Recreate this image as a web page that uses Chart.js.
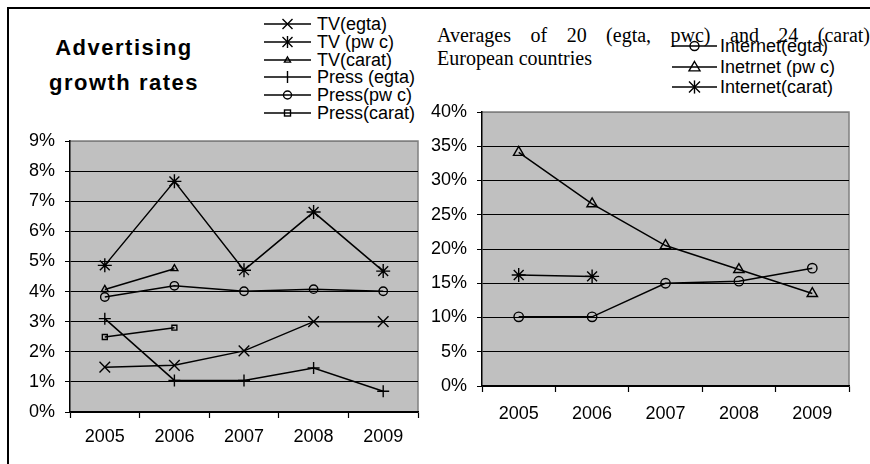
<!DOCTYPE html>
<html>
<head>
<meta charset="utf-8">
<script src="https://cdn.jsdelivr.net/npm/chart.js@4/dist/chart.umd.min.js"></script>
<style>
    body { margin: 0; width: 870px; height: 464px; position: relative; overflow: hidden; background: #fff;
           font-family: 'Liberation Sans', Arial, sans-serif; color: #000; }
    #frame { position: absolute; left: 7px; top: 7px; width: 880px; height: 480px;
             border-left: 2px solid #000; border-top: 2px solid #000; }
    #title { position: absolute; left: 39px; top: 30px; width: 170px; text-align: center;
             font-weight: bold; font-size: 22px; letter-spacing: 1.5px; line-height: 35px; }
    .note { position: absolute; left: 437px; width: 433px; white-space: nowrap;
            font-family: 'Liberation Serif', 'Times New Roman', serif; font-size: 20px; line-height: 22px; }
    #note1 { top: 24px; white-space: normal; text-align: justify; text-align-last: justify; }
    #note2 { top: 47px; }
    .legend { position: absolute; }
    .legend .row { position: absolute; left: 0; height: 18px; white-space: nowrap; font-size: 18px; line-height: 18px; }
    .legend svg { position: absolute; left: 0; top: 0; }
    .legend span { position: absolute; top: 0; }
    canvas { position: absolute; }
</style>
</head>
<body>
<div id="frame"></div>
<div id="title">Advertising<br>growth rates</div>
<div class="note" id="note1">Averages of 20 (egta, pwc) and 24 (carat)</div>
<div class="note" id="note2">European countries</div>
<div class="legend" id="legend-left"></div>
<div class="legend" id="legend-right"></div>
<canvas id="left-chart" width="430" height="344" style="left:0;top:120px"></canvas>
<canvas id="right-chart" width="450" height="374" style="left:420px;top:90px"></canvas>
<script>
    // Categories
    const years = ['2005', '2006', '2007', '2008', '2009'];

    // Left panel: TV and press growth, %
    const tvEgta = [1.49, 1.55, 2.03, 3.0, 3.0];
    const tvPwc = [4.87, 7.66, 4.71, 6.64, 4.68];
    const tvCarat = [4.07, 4.76, null, null, null];
    const pressEgta = [3.10, 1.05, 1.05, 1.46, 0.69];
    const pressPwc = [3.82, 4.19, 4.01, 4.08, 4.01];
    const pressCarat = [2.49, 2.80, null, null, null];

    // Right panel: internet growth, %
    const internetEgta = [10.1, 10.1, 15.0, 15.3, 17.2];
    const internetPwc = [34.1, 26.6, 20.5, 17.0, 13.5];
    const internetCarat = [16.2, 16.0, null, null, null];

    const leftNames = ['TV(egta)', 'TV (pw c)', 'TV(carat)', 'Press (egta)', 'Press(pw c)', 'Press(carat)'];
    const rightNames = ['Internet(egta)', 'Inetrnet (pw c)', 'Internet(carat)'];

    const leftTicks = { min: 0, max: 9, step: 1 };
    const rightTicks = { min: 0, max: 40, step: 5 };

    const FONT = "'Liberation Sans', Arial, sans-serif";

    /**
     * Gray plot background with a gray frame on top/right
     */
    const plotFrame = {
        id: 'plotFrame',
        beforeDraw(chart) {
            const a = chart.chartArea;
            const ctx = chart.ctx;
            ctx.save();
            ctx.fillStyle = '#C0C0C0';
            ctx.fillRect(a.left, a.top, a.right - a.left, a.bottom - a.top);
            ctx.strokeStyle = '#808080';
            ctx.lineWidth = 1.5;
            ctx.beginPath();
            ctx.moveTo(a.left, a.top);
            ctx.lineTo(a.right, a.top);
            ctx.lineTo(a.right, a.bottom);
            ctx.stroke();
            ctx.restore();
        }
    };

    function series(data, style, radius) {
        return {
            data: data,
            borderColor: '#000',
            borderWidth: 1.5,
            backgroundColor: 'transparent',
            pointStyle: style,
            pointRadius: radius,
            pointBorderColor: '#000',
            pointBorderWidth: 1.4,
            pointBackgroundColor: 'transparent',
            tension: 0,
            spanGaps: false
        };
    }

    function makeChart(id, datasets, ticks, yWidth, xHeight, xPad, padding) {
        return new Chart(document.getElementById(id), {
            type: 'line',
            data: { labels: years, datasets: datasets },
            plugins: [plotFrame],
            options: {
                responsive: false,
                animation: false,
                layout: { padding: padding },
                plugins: { legend: { display: false }, tooltip: { enabled: false } },
                scales: {
                    x: {
                        offset: true,
                        grid: { offset: true, drawOnChartArea: false, tickLength: 6, tickColor: '#000', tickWidth: 1.2 },
                        border: { color: '#000', width: 1.5 },
                        ticks: { color: '#000', padding: xPad, font: { family: FONT, size: 18 }, maxRotation: 0 },
                        afterFit: function(scale) { scale.height = xHeight; }
                    },
                    y: {
                        min: ticks.min,
                        max: ticks.max,
                        grid: {
                            color: c => (c.tick && c.tick.value === ticks.max) ? '#808080' : '#000',
                            lineWidth: 1,
                            tickLength: 5,
                            tickColor: '#000'
                        },
                        border: { color: '#000', width: 1.5 },
                        ticks: {
                            stepSize: ticks.step,
                            color: '#000',
                            padding: 10,
                            font: { family: FONT, size: 18 },
                            callback: v => v + '%'
                        },
                        afterFit: function(scale) { scale.width = yWidth; }
                    }
                }
            }
        });
    }

    makeChart('left-chart', [
        series(tvEgta, 'crossRot', 7.5),
        series(tvPwc, 'star', 7),
        series(tvCarat, 'triangle', 4),
        series(pressEgta, 'cross', 6),
        series(pressPwc, 'circle', 4.2),
        series(pressCarat, 'rect', 3.5)
    ], leftTicks, 70, 52, 8, { top: 21, right: 12, left: 0, bottom: 0 });

    makeChart('right-chart', [
        series(internetEgta, 'circle', 4.7),
        series(internetPwc, 'triangle', 6),
        series(internetCarat, 'star', 7)
    ], rightTicks, 62, 78, 11, { top: 22, right: 21, left: 0, bottom: 0 });

    /**
     * Legend row marker as small svg: line with symbol in the middle
     */
    function markerSvg(style, r, w) {
        const cx = w / 2, cy = 9;
        let s = '<line x1="0" y1="9" x2="' + w + '" y2="9" stroke="#000" stroke-width="1.5"/>';
        const g = 'fill="none" stroke="#000" stroke-width="1.4"';
        if (style === 'crossRot' || style === 'star') {
            s += '<path d="M' + (cx - r) + ' ' + (cy - r) + 'L' + (cx + r) + ' ' + (cy + r) +
                 'M' + (cx - r) + ' ' + (cy + r) + 'L' + (cx + r) + ' ' + (cy - r) + '" ' + g + '/>';
        }
        if (style === 'cross' || style === 'star') {
            s += '<path d="M' + cx + ' ' + (cy - r * 1.2) + 'L' + cx + ' ' + (cy + r * 1.2) + '" ' + g + '/>';
        }
        if (style === 'triangle') {
            s += '<path d="M' + cx + ' ' + (cy - r) + 'L' + (cx + r) + ' ' + (cy + r * 0.7) + 'L' + (cx - r) + ' ' + (cy + r * 0.7) + 'Z" ' + g + '/>';
        }
        if (style === 'circle') {
            s += '<circle cx="' + cx + '" cy="' + cy + '" r="' + r + '" ' + g + '/>';
        }
        if (style === 'rect') {
            s += '<rect x="' + (cx - r) + '" y="' + (cy - r) + '" width="' + (2 * r) + '" height="' + (2 * r) + '" ' + g + '/>';
        }
        return '<svg width="' + w + '" height="18">' + s + '</svg>';
    }

    function buildLegend(id, names, styles, sizes, x, y, rowStep, lineW, textX) {
        const el = document.getElementById(id);
        el.style.left = x + 'px';
        el.style.top = y + 'px';
        el.innerHTML = names.map((name, i) =>
            '<div class="row" style="top:' + (i * rowStep) + 'px">' +
            markerSvg(styles[i], sizes[i], lineW) +
            '<span style="left:' + textX + 'px">' + name + '</span></div>'
        ).join('');
    }

    buildLegend('legend-left', leftNames,
        ['crossRot', 'star', 'triangle', 'cross', 'circle', 'rect'],
        [5, 5, 3, 5, 4, 3],
        264, 15, 17.8, 47, 53);

    buildLegend('legend-right', rightNames,
        ['circle', 'triangle', 'star'],
        [4.5, 5.5, 5.5],
        672, 37, 20.5, 45, 48);
</script>
</body>
</html>
